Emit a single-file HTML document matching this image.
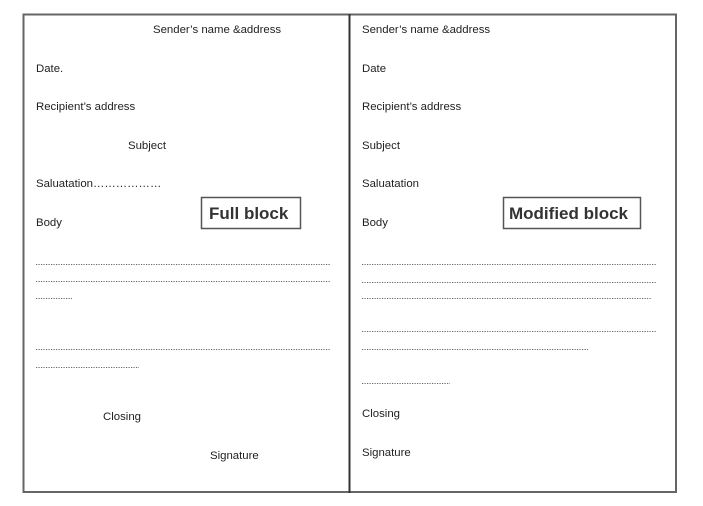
<!DOCTYPE html>
<html><head><meta charset="utf-8"><style>
html,body{margin:0;padding:0;background:#fff;}
svg{display:block;}
text{font-family:"Liberation Sans",sans-serif;font-size:11.4px;fill:#222;}
.b{font-size:17px;font-weight:bold;fill:#333;}
.d{stroke:#666;stroke-width:1;stroke-dasharray:1.2,1.3;}
</style></head><body>
<svg width="703" height="506" viewBox="0 0 703 506">
<rect x="23.5" y="14.5" width="652.5" height="477.5" fill="none" stroke="#666" stroke-width="2"/>
<line x1="349.5" y1="14" x2="349.5" y2="493" stroke="#333" stroke-width="2"/>
<!-- left -->
<text x="153" y="33">Sender’s name &amp;address</text>
<text x="36" y="72">Date.</text>
<text x="36" y="110">Recipient’s address</text>
<text x="128" y="149">Subject</text>
<text x="36" y="187">Saluatation………………</text>
<text x="36" y="226">Body</text>
<rect x="201.5" y="197.5" width="99" height="31" fill="none" stroke="#555" stroke-width="1.5"/>
<text class="b" x="209" y="219">Full block</text>
<line class="d" x1="36" y1="264.5" x2="330" y2="264.5"/>
<line class="d" x1="36" y1="281.5" x2="330" y2="281.5"/>
<line class="d" x1="36" y1="298.5" x2="72" y2="298.5"/>
<line class="d" x1="36" y1="349.5" x2="330" y2="349.5"/>
<line class="d" x1="36" y1="367.5" x2="139" y2="367.5"/>
<text x="103" y="420">Closing</text>
<text x="210" y="459">Signature</text>
<!-- right -->
<text x="362" y="33">Sender’s name &amp;address</text>
<text x="362" y="72">Date</text>
<text x="362" y="110">Recipient’s address</text>
<text x="362" y="149">Subject</text>
<text x="362" y="187">Saluatation</text>
<text x="362" y="226">Body</text>
<rect x="503.5" y="197.5" width="137" height="31" fill="none" stroke="#555" stroke-width="1.5"/>
<text class="b" x="509" y="219">Modified block</text>
<line class="d" x1="362" y1="264.5" x2="657" y2="264.5"/>
<line class="d" x1="362" y1="282.5" x2="657" y2="282.5"/>
<line class="d" x1="362" y1="298.5" x2="651" y2="298.5"/>
<line class="d" x1="362" y1="331.5" x2="657" y2="331.5"/>
<line class="d" x1="362" y1="349.5" x2="588" y2="349.5"/>
<line class="d" x1="362" y1="383.5" x2="450" y2="383.5"/>
<text x="362" y="417">Closing</text>
<text x="362" y="456">Signature</text>
</svg>
</body></html>
